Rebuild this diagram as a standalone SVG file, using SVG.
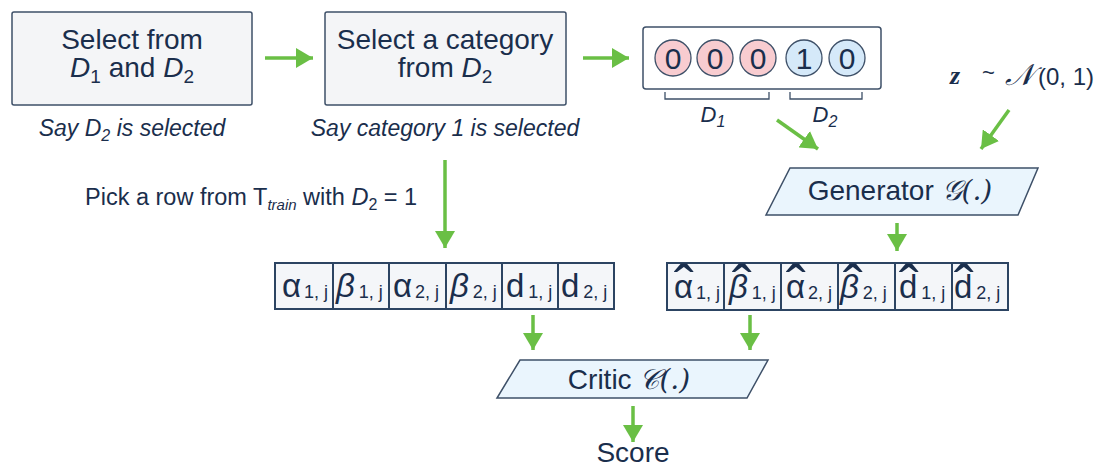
<svg xmlns="http://www.w3.org/2000/svg" width="1100" height="468" viewBox="0 0 1100 468">
  <style>
    .t { font-family: "Liberation Sans", Arial, sans-serif; fill: #1a2e4c; }
    .box { fill: #f4f5f7; stroke: #3e5068; stroke-width: 1.5; }
    .para { fill: #eaf5fd; stroke: #3e5068; stroke-width: 1.5; }
    .cell { fill: #f4f6f9; stroke: #2c4462; stroke-width: 2; }
    .d1 { fill: #f8ccd0; stroke: #3e5068; stroke-width: 1.3; }
    .d2 { fill: #d5e9f9; stroke: #3e5068; stroke-width: 1.3; }
    .br { fill: none; stroke: #3e5068; stroke-width: 1.3; }
    .arr { stroke: #6abf45; stroke-width: 3.5; fill: none; marker-end: url(#head); }
    .big { font-size: 28px; }
    .lab { font-size: 23px; font-style: italic; }
    .sym { font-size: 33px; }
    .sub { font-size: 18px; }
    .hat { font-size: 60px; }
    .cal { font-family: "DejaVu Serif", serif; font-style: italic; }
  </style>
  <defs>
    <marker id="head" markerUnits="userSpaceOnUse" markerWidth="18" markerHeight="20" refX="17" refY="10" orient="auto">
      <path d="M0,0 L17,10 L0,20 z" fill="#6abf45"/>
    </marker>
  </defs>

  <!-- step 1: pick a feature -->
  <g id="select-feature">
    <rect class="box" x="12" y="12" width="240" height="93" rx="2"/>
    <text class="t big" x="132" y="49" text-anchor="middle">Select from</text>
    <text class="t big" x="132" y="77" text-anchor="middle"><tspan font-style="italic">D</tspan><tspan font-size="19" dy="6">1</tspan><tspan dy="-6"> and </tspan><tspan font-style="italic">D</tspan><tspan font-size="19" dy="6">2</tspan></text>
    <text class="t lab" x="132" y="136" text-anchor="middle">Say <tspan>D</tspan><tspan font-size="16" dy="5">2</tspan><tspan dy="-5"> is selected</tspan></text>
  </g>

  <!-- step 2: pick a category -->
  <g id="select-category">
    <rect class="box" x="325" y="12" width="241" height="93" rx="2"/>
    <text class="t big" x="445" y="49" text-anchor="middle">Select a category</text>
    <text class="t big" x="445" y="77" text-anchor="middle">from <tspan font-style="italic">D</tspan><tspan font-size="19" dy="6">2</tspan></text>
    <text class="t lab" x="445" y="136" text-anchor="middle">Say category 1 is selected</text>
  </g>

  <!-- conditional one-hot vector -->
  <g id="cond-vector">
    <rect fill="#ffffff" stroke="#3e5068" stroke-width="1.5" x="643" y="27" width="238" height="62" rx="3"/>
    <circle class="d1" cx="673" cy="58" r="18"/>
    <circle class="d1" cx="715" cy="58" r="18"/>
    <circle class="d1" cx="758" cy="58" r="18"/>
    <circle class="d2" cx="804" cy="58" r="18"/>
    <circle class="d2" cx="847" cy="58" r="18"/>
    <g class="t" font-size="30" text-anchor="middle">
      <text x="673" y="69">0</text>
      <text x="715" y="69">0</text>
      <text x="758" y="69">0</text>
      <text x="804" y="69">1</text>
      <text x="847" y="69">0</text>
    </g>
    <path class="br" d="M665,92 V99 H769 V92"/>
    <path class="br" d="M790,92 V99 H862 V92"/>
    <text class="t" font-size="22" font-style="italic" x="713" y="122" text-anchor="middle">D<tspan font-size="16" dy="5">1</tspan></text>
    <text class="t" font-size="22" font-style="italic" x="825" y="122" text-anchor="middle">D<tspan font-size="16" dy="5">2</tspan></text>
  </g>

  <!-- noise input -->
  <g id="noise">
    <text class="t" font-size="24"><tspan x="950" y="84" font-size="26" font-family="'Liberation Serif', serif" font-style="italic" font-weight="bold">z</tspan><tspan x="982" y="80" font-size="22">~</tspan><tspan x="1005" y="85" class="cal" font-size="30">𝒩</tspan><tspan x="1038" y="85">(0, 1)</tspan></text>
  </g>

  <!-- generator -->
  <g id="generator">
    <polygon class="para" points="790,168 1038,168 1018,215 766,215"/>
    <text class="t big" x="900" y="200" text-anchor="middle">Generator <tspan class="cal">𝒢(.)</tspan></text>
  </g>

  <!-- label on real-row sampling -->
  <g id="pick-row">
    <text class="t" font-size="23.5" x="85" y="205">Pick a row from T<tspan font-size="15" font-style="italic" dy="5">train</tspan><tspan dy="-5"> with </tspan><tspan font-style="italic">D</tspan><tspan font-size="16" dy="5">2</tspan><tspan dy="-5"> = 1</tspan></text>
  </g>

  <!-- real row -->
  <g id="real-row">
    <rect class="cell" x="275" y="263" width="58" height="46"/>
    <rect class="cell" x="333" y="263" width="56" height="46"/>
    <rect class="cell" x="389" y="263" width="57" height="46"/>
    <rect class="cell" x="446" y="263" width="56" height="46"/>
    <rect class="cell" x="502" y="263" width="56" height="46"/>
    <rect class="cell" x="558" y="263" width="56" height="46"/>
    <g class="t">
      <text x="282" y="297"><tspan class="sym">α</tspan><tspan class="sub" dx="3" dy="1">1, j</tspan></text>
      <text x="336" y="297"><tspan class="sym" font-style="italic">β</tspan><tspan class="sub" dx="4" dy="1">1, j</tspan></text>
      <text x="393" y="297"><tspan class="sym">α</tspan><tspan class="sub" dx="3" dy="1">2, j</tspan></text>
      <text x="450" y="297"><tspan class="sym" font-style="italic">β</tspan><tspan class="sub" dx="4" dy="1">2, j</tspan></text>
      <text x="506" y="297"><tspan class="sym">d</tspan><tspan class="sub" dx="4" dy="1">1, j</tspan></text>
      <text x="561" y="297"><tspan class="sym">d</tspan><tspan class="sub" dx="4" dy="1">2, j</tspan></text>
    </g>
  </g>

  <!-- generated row (hatted values) -->
  <g id="fake-row">
    <rect class="cell" x="667" y="263" width="57" height="47"/>
    <rect class="cell" x="724" y="263" width="57" height="47"/>
    <rect class="cell" x="781" y="263" width="57" height="47"/>
    <rect class="cell" x="838" y="263" width="57" height="47"/>
    <rect class="cell" x="895" y="263" width="57" height="47"/>
    <rect class="cell" x="952" y="263" width="56" height="47"/>
    <g class="t">
      <text><tspan class="hat" x="674" y="307">ˆ</tspan><tspan class="sym" x="674" y="298">α</tspan><tspan class="sub" dx="3" dy="1">1, j</tspan></text>
      <text><tspan class="hat" x="732" y="307">ˆ</tspan><tspan class="sym" font-style="italic" x="729" y="298">β</tspan><tspan class="sub" dx="4" dy="1">1, j</tspan></text>
      <text><tspan class="hat" x="786" y="307">ˆ</tspan><tspan class="sym" x="786" y="298">α</tspan><tspan class="sub" dx="3" dy="1">2, j</tspan></text>
      <text><tspan class="hat" x="843" y="307">ˆ</tspan><tspan class="sym" font-style="italic" x="840" y="298">β</tspan><tspan class="sub" dx="4" dy="1">2, j</tspan></text>
      <text><tspan class="hat" x="899" y="307">ˆ</tspan><tspan class="sym" x="899" y="298">d</tspan><tspan class="sub" dx="4" dy="1">1, j</tspan></text>
      <text><tspan class="hat" x="954" y="307">ˆ</tspan><tspan class="sym" x="954" y="298">d</tspan><tspan class="sub" dx="4" dy="1">2, j</tspan></text>
    </g>
  </g>

  <!-- critic -->
  <g id="critic">
    <polygon class="para" points="520,360 768,360 747,398 497,398"/>
    <text class="t big" x="629" y="389" text-anchor="middle">Critic <tspan class="cal">𝒞(.)</tspan></text>
  </g>

  <!-- output -->
  <g id="score">
    <text class="t big" x="633" y="462" text-anchor="middle">Score</text>
  </g>

  <!-- flow connectors -->
  <g id="connectors">
    <line class="arr" x1="265" y1="58" x2="313" y2="58"/>
    <line class="arr" x1="583" y1="58" x2="629" y2="58"/>
    <line class="arr" x1="777" y1="120" x2="818" y2="149"/>
    <line class="arr" x1="1009" y1="110" x2="981" y2="149"/>
    <line class="arr" x1="445" y1="160" x2="445" y2="248"/>
    <line class="arr" x1="897" y1="223" x2="897" y2="251"/>
    <line class="arr" x1="533" y1="315" x2="533" y2="350"/>
    <line class="arr" x1="750" y1="315" x2="750" y2="350"/>
    <line class="arr" x1="633" y1="406" x2="633" y2="442"/>
  </g>
</svg>
